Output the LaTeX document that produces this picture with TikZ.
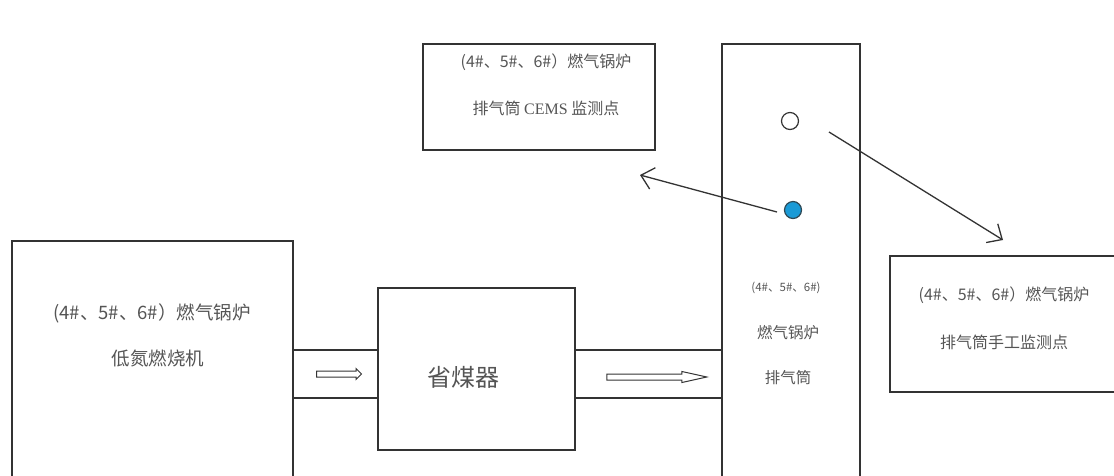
\documentclass[tikz,border=0pt]{standalone}
\usepackage{fontspec}
\setmainfont{Liberation Serif}
\newfontfamily\cjk{Noto Sans CJK SC}
\usetikzlibrary{shapes.arrows,arrows.meta}
\definecolor{ln}{HTML}{333333}
\definecolor{tx}{HTML}{555555}
\definecolor{dotblue}{HTML}{1A9AD6}
\tikzset{
  box/.style={draw=ln,line width=1.4pt,fill=none,inner sep=0pt},
  lbl/.style={text=tx,font=\cjk\fontsize{16}{18}\selectfont,inner sep=0pt,anchor=center},
  pipe/.style={draw=ln,line width=1.4pt},
  flow/.style={single arrow,draw=ln,line width=1pt,inner sep=2.5pt,single arrow head extend=2.5pt,minimum width=10pt},
  ptr/.style={draw=ln,line width=1.3pt,-{Straight Barb[length=12pt,width=22pt,line width=1.3pt]}}
}
\begin{document}
\begin{tikzpicture}[x=1pt,y=-1pt]
\useasboundingbox (0,0) rectangle (1114,475);
\clip (0,0) rectangle (1114,475);
\fill[white] (0,0) rectangle (1114,475);
% boxes
\node[box,minimum width=281pt,minimum height=239pt] (burner) at (152.5,360.5) {};
\node[box,minimum width=197pt,minimum height=162pt] (econ) at (476.5,369) {};
\node[box,minimum width=138pt,minimum height=436pt] (stack) at (791,262) {};
\node[box,minimum width=232pt,minimum height=106pt] (cems) at (539,97) {};
\node[box,minimum width=232pt,minimum height=136pt] (manual) at (1006,324) {};
% pipes
\draw[pipe] (burner.east |- 0,350) -- (econ.west |- 0,350);
\draw[pipe] (burner.east |- 0,398) -- (econ.west |- 0,398);
\draw[pipe] (econ.east |- 0,350) -- (stack.west |- 0,350);
\draw[pipe] (econ.east |- 0,398) -- (stack.west |- 0,398);
% flow arrows
\node[flow,minimum height=45pt] (f1) at (337.5,374) {};
\node[flow,minimum height=100pt,single arrow tip angle=25] (f2) at (650,377) {};
% texts
\node[lbl,font=\cjk\fontsize{18.5}{20}\selectfont] (b1) at (152,313) {(4\#、5\#、6\#）燃气锅炉};
\node[lbl,font=\cjk\fontsize{18.5}{20}\selectfont] (b2) at (158,358) {低氮燃烧机};
\node[lbl,font=\cjk\fontsize{24}{26}\selectfont] (e1) at (463,377) {省煤器};
\node[lbl,font=\cjk\fontsize{11.5}{13}\selectfont] (s1) at (786,288) {(4\#、5\#、6\#)};
\node[lbl,font=\cjk\fontsize{15.5}{17}\selectfont] (s2) at (788,333) {燃气锅炉};
\node[lbl,font=\cjk\fontsize{15.5}{17}\selectfont] (s3) at (788,378) {排气筒};
\node[lbl] (c1) at (546,62) {(4\#、5\#、6\#）燃气锅炉};
\node[lbl] (c2) at (546,108) {排气筒 {\rmfamily CEMS} 监测点};
\node[lbl] (m1) at (1004,295) {(4\#、5\#、6\#）燃气锅炉};
\node[lbl] (m2) at (1004,342) {排气筒手工监测点};
% sampling points
\node[draw=ln,line width=1.2pt,circle,minimum size=17pt,inner sep=0pt] (manpt) at (790,121) {};
\node[draw=ln!80!dotblue,fill=dotblue,line width=1.2pt,circle,minimum size=17pt,inner sep=0pt] (cemspt) at (793,210) {};
\coordinate (ce) at (640,175);
\coordinate (me) at (1003,240);
\coordinate (ms) at (829,132);
\draw[ptr] ([xshift=-16pt,yshift=-2pt]cemspt.center) -- (ce);
\draw[ptr] (ms) -- (me);
\end{tikzpicture}
\end{document}
